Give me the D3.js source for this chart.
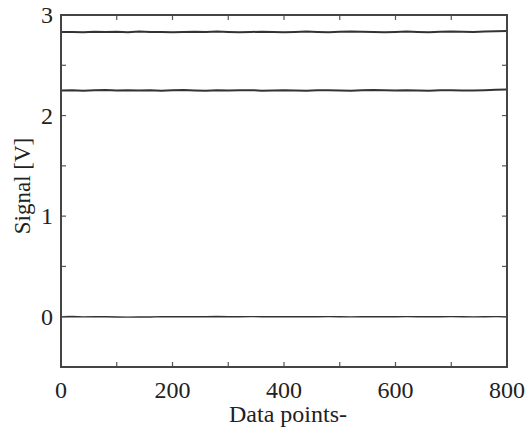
<!DOCTYPE html>
<html>
<head>
<meta charset="utf-8">
<script src="https://cdn.jsdelivr.net/npm/d3@7"></script>
<style>
  body { margin: 0; background: #fff; }
  text { font-family: "Liberation Serif", "DejaVu Serif", serif; fill: #222; }
</style>
</head>
<body>
<svg id="chart" width="528" height="428"></svg>
<script>
// data, one sample every 20 data points
var xs = d3.range(0, 801, 20);
var upper = [2.83, 2.832, 2.828, 2.834, 2.831, 2.833, 2.829, 2.835, 2.832, 2.83,
  2.828, 2.831, 2.833, 2.83, 2.836, 2.832, 2.829, 2.831, 2.834, 2.83,
  2.828, 2.832, 2.835, 2.831, 2.829, 2.833, 2.836, 2.834, 2.83, 2.828,
  2.832, 2.835, 2.831, 2.829, 2.834, 2.837, 2.833, 2.831, 2.836, 2.838, 2.84];
var lower = [2.25, 2.252, 2.248, 2.251, 2.254, 2.249, 2.252, 2.25, 2.253, 2.248,
  2.251, 2.254, 2.25, 2.247, 2.252, 2.249, 2.251, 2.253, 2.248, 2.25,
  2.252, 2.249, 2.247, 2.251, 2.253, 2.25, 2.248, 2.252, 2.254, 2.251,
  2.249, 2.252, 2.25, 2.248, 2.251, 2.253, 2.25, 2.249, 2.252, 2.256, 2.258];
var zero = [0, 0.002, -0.002, 0.001, 0, -0.003, -0.004, -0.002, -0.003, 0.001,
  0, 0.001, -0.001, 0, 0.002, 0, -0.001, 0.001, 0, -0.001,
  0.001, 0, -0.001, 0, 0.001, 0, -0.002, 0.001, 0, -0.001,
  0, 0.001, 0, -0.001, 0, 0.001, 0, -0.002, 0, 0.001, 0];
var series = [upper, lower, zero];
var widths = [2, 2, 1.4];

var xTicks = [0, 200, 400, 600, 800];
var yTicks = [0, 1, 2, 3];

var pLeft = 61, pRight = 507, pTop = 15, pBottom = 367;

const svg = d3.select("#chart");

var x = d3.scaleLinear().domain([0, 800]).range([pLeft, pRight]);
var y = d3.scaleLinear().domain([-0.5, 3]).range([pBottom, pTop]);

// data lines
var line = d3.line()
    .x((d, i) => x(xs[i]))
    .y(d => y(d));

svg.append("g")
    .selectAll("path")
    .data(series)
    .join("path")
    .attr("d", line)
    .attr("fill", "none")
    .attr("stroke", "#333")
    .attr("stroke-width", (d, i) => widths[i]);

// inward ticks, all four sides
var tickColor = "#555";
var xMinor = d3.range(100, 800, 100);
var yMinor = d3.range(-0.5, 3.01, 0.5).filter(v => v > -0.5 && v < 3);

svg.append("g").selectAll("line")
    .data(xMinor)
    .join("line")
    .attr("x1", d => x(d)).attr("x2", d => x(d))
    .attr("y1", pBottom).attr("y2", pBottom - 5)
    .attr("stroke", tickColor).attr("stroke-width", 1.2);

svg.append("g").selectAll("line")
    .data(xMinor)
    .join("line")
    .attr("x1", d => x(d)).attr("x2", d => x(d))
    .attr("y1", pTop).attr("y2", pTop + 5)
    .attr("stroke", tickColor).attr("stroke-width", 1.2);

svg.append("g").selectAll("line")
    .data(yMinor)
    .join("line")
    .attr("x1", pLeft).attr("x2", pLeft + 5)
    .attr("y1", d => y(d)).attr("y2", d => y(d))
    .attr("stroke", tickColor).attr("stroke-width", 1.2);

svg.append("g").selectAll("line")
    .data(yMinor)
    .join("line")
    .attr("x1", pRight).attr("x2", pRight - 5)
    .attr("y1", d => y(d)).attr("y2", d => y(d))
    .attr("stroke", tickColor).attr("stroke-width", 1.2);

// frame
svg.append("rect")
    .attr("x", pLeft).attr("y", pTop)
    .attr("width", pRight - pLeft).attr("height", pBottom - pTop)
    .attr("fill", "none")
    .attr("stroke", "#444")
    .attr("stroke-width", 2);

// tick labels
svg.append("g").selectAll("text")
    .data(xTicks)
    .join("text")
    .attr("x", d => x(d))
    .attr("y", 398)
    .attr("text-anchor", "middle")
    .attr("font-size", 24)
    .text(d => d);

svg.append("g").selectAll("text")
    .data(yTicks)
    .join("text")
    .attr("x", 53)
    .attr("y", d => y(d) + 8)
    .attr("text-anchor", "end")
    .attr("font-size", 24)
    .text(d => d);

// axis titles
svg.append("text")
    .attr("x", 229)
    .attr("y", 422)
    .attr("font-size", 24)
    .text("Data points-");

svg.append("text")
    .attr("transform", "translate(30,186) rotate(-90)")
    .attr("text-anchor", "middle")
    .attr("font-size", 23)
    .text("Signal [V]");
</script>
</body>
</html>
